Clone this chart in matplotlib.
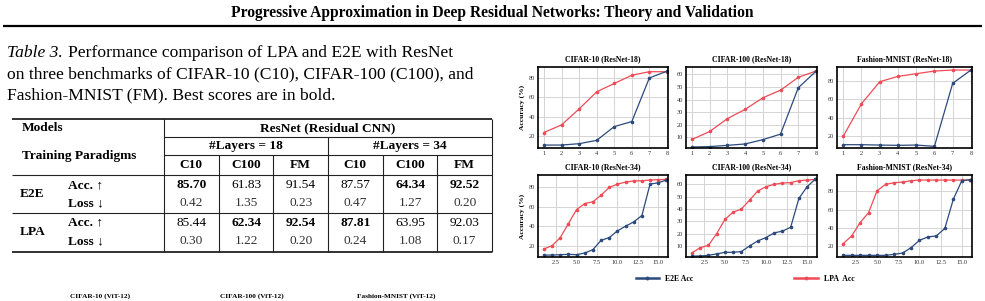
import matplotlib
matplotlib.use("Agg")
import matplotlib.pyplot as plt
from matplotlib.lines import Line2D

# ------------------------------------------------------------------ data
page_title = "Progressive Approximation in Deep Residual Networks: Theory and Validation"
caption_label = "Table 3."
caption_lines = [
    "Performance comparison of LPA and E2E with ResNet",
    "on three benchmarks of CIFAR-10 (C10), CIFAR-100 (C100), and",
    "Fashion-MNIST (FM). Best scores are in bold.",
]
table_model = "ResNet (Residual CNN)"
layer_groups = ["#Layers = 18", "#Layers = 34"]
bench_short = ["C10", "C100", "FM"]
paradigms = ["E2E", "LPA"]
metric_names = ["Acc. \u2191", "Loss \u2193"]
e2e_acc = [85.70, 61.83, 91.54, 87.57, 64.34, 92.52]
e2e_loss = [0.42, 1.35, 0.23, 0.47, 1.27, 0.20]
lpa_acc = [85.44, 62.34, 92.54, 87.81, 63.95, 92.03]
lpa_loss = [0.30, 1.22, 0.20, 0.24, 1.08, 0.17]

chart_titles = [
    "CIFAR-10 (ResNet-18)", "CIFAR-100 (ResNet-18)", "Fashion-MNIST (ResNet-18)",
    "CIFAR-10 (ResNet-34)", "CIFAR-100 (ResNet-34)", "Fashion-MNIST (ResNet-34)",
]
next_titles = ["CIFAR-10 (ViT-12)", "CIFAR-100 (ViT-12)", "Fashion-MNIST (ViT-12)"]
series_names = ["E2E Acc", "LPA  Acc"]

stages18 = [1, 2, 3, 4, 5, 6, 7, 8]
stages34 = list(range(1, 17))

c10_r18_e2e = [11.2, 11.2, 12.6, 16.0, 30.0, 35.2, 79.7, 86.5]
c10_r18_lpa = [24.0, 31.8, 48.0, 65.5, 74.0, 82.4, 86.0, 86.0]
c100_r18_e2e = [2.4, 2.7, 3.7, 4.8, 8.2, 12.6, 49.3, 62.4]
c100_r18_lpa = [8.4, 14.7, 24.9, 32.2, 41.4, 47.4, 57.6, 62.6]
fm_r18_e2e = [10.9, 10.9, 10.5, 10.2, 10.5, 9.1, 77.5, 92.0]
fm_r18_lpa = [20.0, 55.3, 79.3, 85.1, 88.0, 90.9, 92.0, 92.0]

c10_r34_e2e = [10.3, 10.3, 10.7, 11.0, 10.7, 12.4, 15.9, 25.5,
               28.3, 35.2, 40.0, 44.5, 51.0, 83.4, 84.8, 87.6]
c10_r34_lpa = [16.6, 20.0, 28.3, 42.8, 57.2, 63.4, 65.2, 72.0,
               80.0, 83.4, 85.5, 86.6, 86.9, 87.6, 88.0, 88.3]
c100_r34_e2e = [1.8, 1.8, 2.4, 3.5, 4.8, 4.8, 5.4, 10.0,
                14.1, 16.8, 20.6, 22.0, 25.2, 48.6, 58.1, 64.3]
c100_r34_lpa = [4.3, 8.6, 10.5, 20.0, 31.5, 37.4, 39.9, 47.2,
                54.6, 58.1, 60.0, 61.1, 61.4, 63.0, 63.5, 64.0]
fm_r34_e2e = [10.2, 10.2, 10.2, 10.2, 10.2, 10.2, 11.3, 12.7,
              18.5, 26.5, 30.2, 31.3, 39.6, 71.3, 91.3, 92.5]
fm_r34_lpa = [22.9, 31.3, 45.8, 56.7, 80.4, 87.3, 89.1, 89.8,
              91.3, 92.0, 92.0, 92.0, 92.0, 92.0, 92.0, 92.0]

# ------------------------------------------------------------------ figure
W, H = 985, 301
SERIF = ['Liberation Serif', 'DejaVu Serif']
plt.rcParams['font.family'] = SERIF
plt.rcParams['mathtext.fontset'] = 'stix'

fig = plt.figure(figsize=(W / 100, H / 100), dpi=100)
fig.patch.set_facecolor('white')
renderer = fig.canvas.get_renderer()

page = fig.add_axes([0, 0, 1, 1])
page.set_xlim(0, W)
page.set_ylim(H, 0)
page.axis('off')

# page header
page.text(W / 2, 13, page_title, ha='center', va='center', fontsize=11.2,
          fontweight='bold')
page.plot([3, 982], [26, 26], color='black', lw=1.6, solid_capstyle='butt')

# caption
cap_fs = 12.6
cap_y = [53, 74.5, 95.5]
t = page.text(7, cap_y[0], caption_label, ha='left', va='center',
              fontsize=cap_fs, style='italic')
wpx = t.get_window_extent(renderer).width
page.text(7 + wpx + 5, cap_y[0], caption_lines[0], ha='left', va='center',
          fontsize=cap_fs)
for yy, line in zip(cap_y[1:], caption_lines[1:]):
    page.text(7, yy, line, ha='left', va='center', fontsize=cap_fs)

# table geometry (pixels)
tl, tr = 12, 492
vsplit = 164
col_edges = [vsplit + i * (tr - vsplit) / 6 for i in range(7)]
col_c = [(col_edges[i] + col_edges[i + 1]) / 2 for i in range(6)]
r_top, r_models, r_layers, r_bench, r_e2e, r_lpa, r_bot = 119, 137, 155, 175, 213, 213, 252
ty_models, ty_layers, ty_bench = 128, 146.5, 165.5
ty_rows = [[185, 203], [222.5, 241]]
tfs = 9.6

lw_thick, lw_thin = 1.3, 0.8
def hline(y, x0, x1, lw):
    page.plot([x0, x1], [y, y], color='#222222', lw=lw, solid_capstyle='butt')
def vline(x, y0, y1, lw=lw_thin):
    page.plot([x, x], [y0, y1], color='#222222', lw=lw, solid_capstyle='butt')

hline(r_top, tl, tr, lw_thick)
hline(r_models, vsplit, tr, lw_thin)
hline(r_layers, vsplit, tr, lw_thin)
hline(r_bench, tl, tr, lw_thin)
hline(r_e2e, tl, tr, lw_thin)
hline(r_bot, tl, tr, lw_thick)
vline(vsplit, r_top, r_bot)
vline(tr, r_top, r_bot)
vline(col_edges[3], r_models, r_bot)
for i in (1, 2, 4, 5):
    vline(col_edges[i], r_layers, r_bot)

page.text(22, ty_models, "Models", ha='left', va='center', fontsize=tfs, fontweight='bold')
page.text((vsplit + tr) / 2, ty_models, table_model, ha='center', va='center',
          fontsize=tfs, fontweight='bold')
page.text(22, (ty_layers + ty_bench) / 2, "Training Paradigms", ha='left', va='center',
          fontsize=tfs, fontweight='bold')
for g, name in enumerate(layer_groups):
    page.text((col_edges[3 * g] + col_edges[3 * g + 3]) / 2, ty_layers, name,
              ha='center', va='center', fontsize=tfs, fontweight='bold')
    for j, b in enumerate(bench_short):
        page.text(col_c[3 * g + j], ty_bench, b, ha='center', va='center',
                  fontsize=tfs, fontweight='bold')

acc_rows = [e2e_acc, lpa_acc]
loss_rows = [e2e_loss, lpa_loss]
for p, name in enumerate(paradigms):
    ya, yl = ty_rows[p]
    page.text(20, (ya + yl) / 2, name, ha='left', va='center', fontsize=tfs,
              fontweight='bold')
    page.text(68, ya, metric_names[0], ha='left', va='center', fontsize=tfs,
              fontweight='bold', family=SERIF)
    page.text(68, yl, metric_names[1], ha='left', va='center', fontsize=tfs,
              fontweight='bold', family=SERIF)
    for c in range(6):
        best = acc_rows[p][c] == max(r[c] for r in acc_rows)
        page.text(col_c[c], ya, f"{acc_rows[p][c]:.2f}", ha='center', va='center',
                  fontsize=tfs, fontweight='bold' if best else 'normal')
        page.text(col_c[c], yl, f"{loss_rows[p][c]:.2f}", ha='center', va='center',
                  fontsize=tfs, color='#333333')

# ------------------------------------------------------------------ charts
def px_axes(x0, x1, y0, y1):
    return fig.add_axes([x0 / W, 1 - y1 / H, (x1 - x0) / W, (y1 - y0) / H])

col_px = [(538, 668), (686, 817), (837, 972)]
row_px = [(67, 148), (175, 257)]
E2E_C, LPA_C = '#2c4a7c', '#ef4b56'

chart_data = [
    (stages18, c10_r18_e2e, c10_r18_lpa, (8.2, 90.8), [20, 40, 60, 80]),
    (stages18, c100_r18_e2e, c100_r18_lpa, (1.6, 65.8), [10, 20, 30, 40, 50, 60]),
    (stages18, fm_r18_e2e, fm_r18_lpa, (7.3, 95.3), [20, 40, 60, 80]),
    (stages34, c10_r34_e2e, c10_r34_lpa, (8.3, 92.8), [20, 40, 60, 80]),
    (stages34, c100_r34_e2e, c100_r34_lpa, (1.0, 67.6), [10, 20, 30, 40, 50, 60]),
    (stages34, fm_r34_e2e, fm_r34_lpa, (8.4, 97.5), [20, 40, 60, 80]),
]

handles = None
for k, (xs, e2e, lpa, ylim, yt) in enumerate(chart_data):
    r, c = divmod(k, 3)
    ax = px_axes(col_px[c][0], col_px[c][1], row_px[r][0], row_px[r][1])
    ax.set_facecolor('white')
    ax.grid(True, color='#d4d4d4', lw=0.7)
    ax.set_axisbelow(True)
    h2, = ax.plot(xs, lpa, color=LPA_C, lw=0.9, marker='o', ms=1.6, label=series_names[1])
    h1, = ax.plot(xs, e2e, color=E2E_C, lw=0.9, marker='o', ms=1.6, label=series_names[0])
    handles = [h1, h2]
    ax.set_ylim(*ylim)
    ax.set_yticks(yt)
    if len(xs) == 8:
        ax.set_xlim(0.66, 8.06)
        ax.set_xticks(xs)
    else:
        ax.set_xlim(0.27, 16.2)
        ax.set_xticks([2.5, 5.0, 7.5, 10.0, 12.5, 15.0])
        ax.set_xticklabels(["2.5", "5.0", "7.5", "10.0", "12.5", "15.0"])
    for s in ax.spines.values():
        s.set_color('black')
        s.set_linewidth(1.2)
    ax.tick_params(labelsize=4.6, length=0, pad=2, colors='#333333')
    ax.set_title(chart_titles[k], fontsize=5.6, fontweight='bold', pad=4)
    if c == 0:
        ax.set_ylabel("Accuracy (%)", fontsize=5.4, fontweight='bold', labelpad=3)

leg_handles = [Line2D([0], [0], color=h.get_color(), lw=1.8, marker='o', ms=1.8)
               for h in handles]
fig.legend(leg_handles, series_names, loc='center', bbox_to_anchor=(745 / W, 1 - 279 / H),
           ncol=2, frameon=False, columnspacing=13, handlelength=3.0,
           prop={'family': SERIF, 'size': 5.6, 'weight': 'bold'})

for cx, name in zip([100, 252, 396], next_titles):
    page.text(cx, 296, name, ha='center', va='center', fontsize=5.2, fontweight='bold')

fig.savefig("out.png", dpi=100, facecolor='white')
